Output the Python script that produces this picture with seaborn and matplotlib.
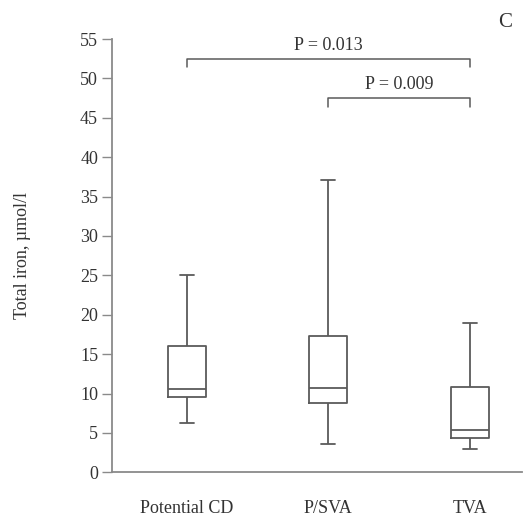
import matplotlib
matplotlib.use("Agg")
import matplotlib.pyplot as plt
import seaborn as sns
import pandas as pd

# five-number summaries: min, Q1, median, Q3, max
groups = ["Potential CD", "P/SVA", "TVA"]
potential_cd = [6.2, 9.5, 10.55, 16.0, 25.1]
p_sva = [3.55, 8.8, 10.7, 17.3, 37.1]
tva = [2.9, 4.3, 5.4, 10.85, 19.0]
yticks = list(range(0, 60, 5))

# significance brackets: (left group, right group, height, label)
brackets = [(0, 2, 52.5, "P = 0.013"), (1, 2, 47.5, "P = 0.009")]

df = pd.DataFrame({
    "group": [g for g, vals in zip(groups, [potential_cd, p_sva, tva]) for _ in vals],
    "iron": potential_cd + p_sva + tva,
})

sns.set_style("white")
plt.rcParams["font.family"] = ["Liberation Serif", "DejaVu Serif"]

line_col = "#5a5a5a"
axis_col = "#8a8a8a"
text_col = "#333333"
fs = 13

fig = plt.figure(figsize=(5.24, 5.25), dpi=100)
ax = fig.add_axes([0.2137, 0.1004, 0.7823, 0.8253])

sns.boxplot(data=df, x="group", y="iron", order=groups, whis=(0, 100),
            width=0.27, fill=False, color=line_col, linewidth=1.3,
            capwidths=0.1, ax=ax)

ax.set_ylim(0, 55)
ax.set_xlim(-0.53, 2.37)
ax.set_yticks(yticks)
ax.set_xlabel("")
ax.set_ylabel("Total iron, µmol/l", fontsize=fs, color=text_col)
ax.yaxis.set_label_coords(-0.197, 0.5)

for side in ["top", "right"]:
    ax.spines[side].set_visible(False)
for side in ["left", "bottom"]:
    ax.spines[side].set_color(axis_col)
    ax.spines[side].set_linewidth(1.3)

ax.tick_params(axis="y", direction="out", length=7, width=1.0, color=axis_col,
               labelsize=fs, labelcolor=text_col, pad=3, left=True)
ax.tick_params(axis="x", length=0, labelsize=fs, labelcolor=text_col, pad=20)

for x0, x1, h, label in brackets:
    ax.plot([x0, x0, x1, x1], [h - 1.1, h, h, h - 1.1], color=line_col,
            linewidth=1.1, clip_on=False)
    ax.text((x0 + x1) / 2, h + 0.6, label, ha="center", va="bottom",
            fontsize=fs, color=text_col)

fig.text(0.963, 0.957, "C", fontsize=15, color=text_col, ha="center", va="center")

fig.savefig("out.png", dpi=100)
